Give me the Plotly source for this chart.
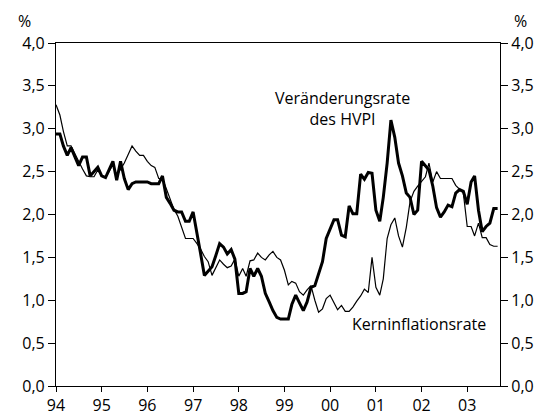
import pandas as pd
import plotly.graph_objects as go

# monthly data, Jan 1994 - Sep 2003
months = pd.date_range("1994-01-01", periods=117, freq="MS")

hvpi = [2.94, 2.94, 2.80, 2.69, 2.78, 2.68, 2.57, 2.67, 2.67, 2.45, 2.50, 2.55,   # 1994
        2.45, 2.43, 2.52, 2.62, 2.40, 2.62, 2.42, 2.29, 2.36, 2.38, 2.38, 2.38,   # 1995
        2.38, 2.36, 2.36, 2.36, 2.45, 2.20, 2.13, 2.05, 2.03, 2.03, 1.92, 1.92,   # 1996
        2.03, 1.80, 1.55, 1.29, 1.34, 1.39, 1.52, 1.66, 1.62, 1.54, 1.59, 1.48,   # 1997
        1.08, 1.08, 1.10, 1.37, 1.28, 1.37, 1.28, 1.08, 0.98, 0.88, 0.80, 0.78,   # 1998
        0.78, 0.78, 0.95, 1.06, 0.97, 0.88, 0.98, 1.15, 1.17, 1.30, 1.45, 1.72,   # 1999
        1.84, 1.94, 1.94, 1.76, 1.74, 2.10, 2.01, 2.01, 2.47, 2.41, 2.49, 2.48,   # 2000
        2.05, 1.92, 2.20, 2.60, 3.10, 2.90, 2.60, 2.45, 2.25, 2.20, 2.00, 2.05,   # 2001
        2.62, 2.56, 2.52, 2.33, 2.08, 1.97, 2.03, 2.11, 2.09, 2.25, 2.29, 2.27,   # 2002
        2.12, 2.38, 2.45, 2.05, 1.80, 1.86, 1.90, 2.07, 2.07]                     # 2003

kern = [3.28, 3.16, 2.97, 2.80, 2.80, 2.70, 2.62, 2.53, 2.45, 2.44, 2.44, 2.52,   # 1994
        2.45, 2.43, 2.50, 2.58, 2.45, 2.52, 2.60, 2.70, 2.80, 2.74, 2.69, 2.69,   # 1995
        2.62, 2.57, 2.55, 2.42, 2.42, 2.30, 2.18, 2.06, 1.98, 1.85, 1.72, 1.72,   # 1996
        1.72, 1.66, 1.60, 1.51, 1.45, 1.29, 1.38, 1.47, 1.42, 1.38, 1.40, 1.48,   # 1997
        1.28, 1.37, 1.28, 1.46, 1.47, 1.55, 1.50, 1.47, 1.53, 1.57, 1.50, 1.47,   # 1998
        1.35, 1.18, 1.22, 1.20, 1.10, 1.06, 1.12, 1.17, 1.00, 0.86, 0.90, 1.02,   # 1999
        1.06, 0.98, 0.89, 0.94, 0.87, 0.87, 0.92, 0.99, 1.05, 1.13, 1.09, 1.50,   # 2000
        1.15, 1.06, 1.25, 1.72, 1.88, 1.96, 1.75, 1.62, 1.85, 2.15, 2.27, 2.33,   # 2001
        2.39, 2.44, 2.60, 2.38, 2.50, 2.42, 2.42, 2.42, 2.42, 2.34, 2.30, 2.25,   # 2002
        1.86, 1.86, 1.75, 1.90, 1.73, 1.73, 1.65, 1.63, 1.63]                     # 2003

year_ticks = [f"{y}-01-01" for y in range(1994, 2004)]
year_labels = ["94", "95", "96", "97", "98", "99", "00", "01", "02", "03"]

font = dict(family="Open Sans, sans-serif", size=16, color="black")

fig = go.Figure()
fig.add_trace(go.Scatter(x=months, y=kern, mode="lines", name="Kerninflationsrate",
                         line=dict(color="black", width=1.2), yaxis="y2"))
fig.add_trace(go.Scatter(x=months, y=hvpi, mode="lines", name="Veränderungsrate des HVPI",
                         line=dict(color="black", width=3)))

axis_common = dict(range=[0, 4], dtick=0.5, tickformat=".1f", showgrid=False, zeroline=False,
                   showline=True, linecolor="black", linewidth=1.2, ticks="outside",
                   ticklen=7, tickcolor="black", tickfont=font, automargin=False)

fig.update_layout(
    width=549, height=418,
    margin=dict(l=56, r=49, t=43, b=32),
    paper_bgcolor="white", plot_bgcolor="white",
    separators=",.",
    showlegend=False,
    font=font,
    xaxis=dict(type="date", range=["1994-01-01", "2003-09-20"], tickvals=year_ticks,
               ticktext=year_labels, showgrid=False, zeroline=False, showline=True,
               linecolor="black", linewidth=1.2, mirror=True, ticks="outside", ticklen=5,
               tickcolor="black", tickfont=font, automargin=False),
    yaxis=dict(**axis_common),
    yaxis2=dict(**axis_common, overlaying="y", side="right"),
    annotations=[
        dict(x="2000-04-10", y=3.24, xref="x", yref="y", text="Veränderungsrate<br>des HVPI",
             showarrow=False, xanchor="center", yanchor="middle", align="center", font=font),
        dict(x="2001-12-10", y=0.72, xref="x", yref="y", text="Kerninflationsrate",
             showarrow=False, xanchor="center", yanchor="middle", font=font),
        dict(x=-0.07, y=1.064, xref="paper", yref="paper", text="%", showarrow=False,
             xanchor="center", yanchor="middle", font=font),
        dict(x=1.047, y=1.064, xref="paper", yref="paper", text="%", showarrow=False,
             xanchor="center", yanchor="middle", font=font),
    ],
)

# drop the default page margin so the figure sits at the window's top-left corner
fig.write_html("out.html", config={"displayModeBar": False},
               post_script="document.body.style.margin='0';document.body.style.overflow='hidden';")
